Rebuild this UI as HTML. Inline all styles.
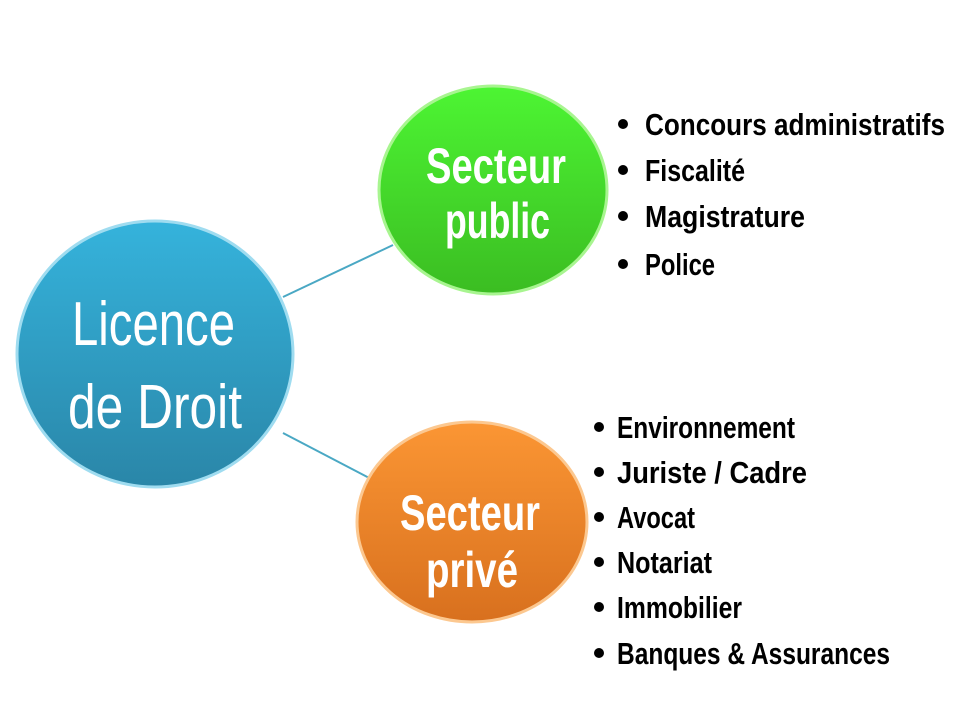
<!DOCTYPE html>
<html><head><meta charset="utf-8"><style>html,body{margin:0;background:#fff}svg{display:block}</style></head><body>
<svg width="960" height="720" viewBox="0 0 960 720" xmlns="http://www.w3.org/2000/svg">
<defs>
<linearGradient id="gb" x1="0" y1="0" x2="0" y2="1"><stop offset="0" stop-color="#35b3dc"/><stop offset="1" stop-color="#2a86a8"/></linearGradient>
<linearGradient id="gg" x1="0" y1="0" x2="0" y2="1"><stop offset="0" stop-color="#4df533"/><stop offset="1" stop-color="#3bbd22"/></linearGradient>
<linearGradient id="go" x1="0" y1="0" x2="0" y2="1"><stop offset="0" stop-color="#fb9634"/><stop offset="1" stop-color="#d8701e"/></linearGradient>
</defs>
<line x1="283" y1="297" x2="393" y2="245" stroke="#4aa8c4" stroke-width="2"/>
<line x1="283" y1="433" x2="375" y2="481" stroke="#4aa8c4" stroke-width="2"/>
<ellipse cx="155" cy="354" rx="138" ry="133" fill="url(#gb)" stroke="#9fdcf0" stroke-width="3"/>
<ellipse cx="493" cy="190" rx="114" ry="104" fill="url(#gg)" stroke="#a8f590" stroke-width="3"/>
<ellipse cx="472" cy="522" rx="115" ry="100" fill="url(#go)" stroke="#fcc890" stroke-width="3"/>
<g font-family="Liberation Sans Narrow, Liberation Sans, sans-serif" fill="#fff">
<text x="72" y="345" font-size="62" textLength="163" lengthAdjust="spacingAndGlyphs">Licence</text>
<text x="68" y="428" font-size="62" textLength="174" lengthAdjust="spacingAndGlyphs">de Droit</text>
<g font-weight="bold" font-size="50">
<text x="426" y="183" textLength="140" lengthAdjust="spacingAndGlyphs">Secteur</text>
<text x="445" y="238" textLength="105" lengthAdjust="spacingAndGlyphs">public</text>
<text x="400" y="530" textLength="140" lengthAdjust="spacingAndGlyphs">Secteur</text>
<text x="426" y="587" textLength="92" lengthAdjust="spacingAndGlyphs">privé</text>
</g>
</g>
<g font-family="Liberation Sans Narrow, Liberation Sans, sans-serif" font-weight="bold" font-size="31" fill="#000">
<g>
<circle cx="623" cy="124" r="5"/><text x="645" y="135" textLength="300" lengthAdjust="spacingAndGlyphs">Concours administratifs</text>
<circle cx="623" cy="170" r="5"/><text x="645" y="181" textLength="100" lengthAdjust="spacingAndGlyphs">Fiscalité</text>
<circle cx="623" cy="216" r="5"/><text x="645" y="227" textLength="160" lengthAdjust="spacingAndGlyphs">Magistrature</text>
<circle cx="623" cy="264" r="5"/><text x="645" y="275" textLength="70" lengthAdjust="spacingAndGlyphs">Police</text>
</g>
<g>
<circle cx="599" cy="427" r="5"/><text x="617" y="438" textLength="178" lengthAdjust="spacingAndGlyphs">Environnement</text>
<circle cx="599" cy="472" r="5"/><text x="617" y="483" textLength="190" lengthAdjust="spacingAndGlyphs">Juriste / Cadre</text>
<circle cx="599" cy="517" r="5"/><text x="617" y="528" textLength="78" lengthAdjust="spacingAndGlyphs">Avocat</text>
<circle cx="599" cy="562" r="5"/><text x="617" y="573" textLength="95" lengthAdjust="spacingAndGlyphs">Notariat</text>
<circle cx="599" cy="607" r="5"/><text x="617" y="618" textLength="125" lengthAdjust="spacingAndGlyphs">Immobilier</text>
<circle cx="599" cy="653" r="5"/><text x="617" y="664" textLength="273" lengthAdjust="spacingAndGlyphs">Banques &amp; Assurances</text>
</g>
</g>
</svg>
</body></html>
